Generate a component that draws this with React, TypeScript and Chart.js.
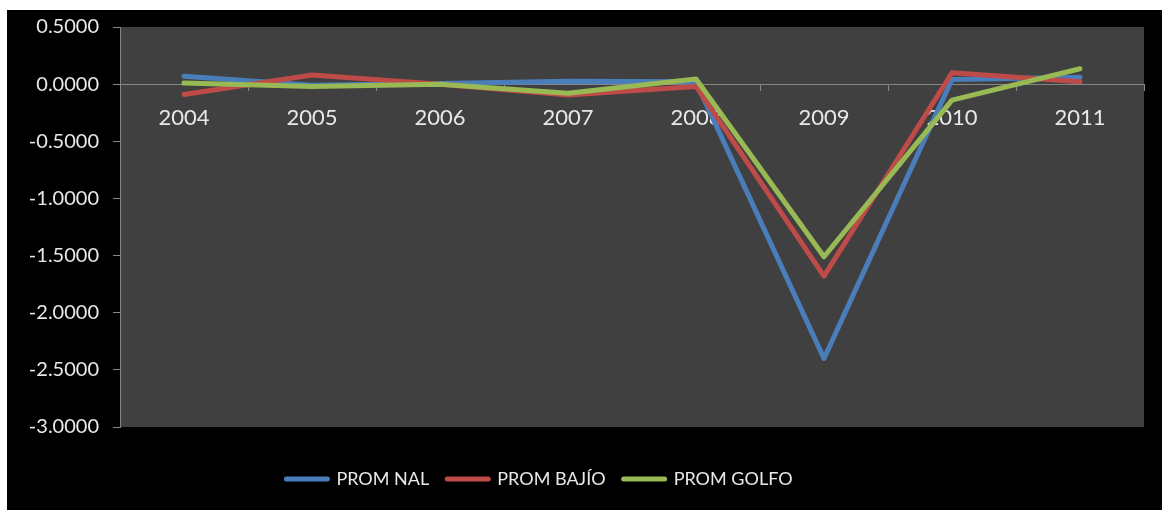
import React, { useEffect, useRef } from "react";
import { Chart, registerables } from "chart.js";

Chart.register(...registerables);

const categories = ["2004", "2005", "2006", "2007", "2008", "2009", "2010", "2011"];
const promNal = [0.07, -0.01, 0.005, 0.025, 0.02, -2.4, 0.04, 0.06];
const promBajio = [-0.09, 0.08, 0.0, -0.095, -0.02, -1.68, 0.1, 0.02];
const promGolfo = [0.01, -0.02, 0.0, -0.08, 0.045, -1.51, -0.14, 0.135];
const seriesNames = ["PROM NAL", "PROM BAJÍO", "PROM GOLFO"];
const seriesColors = ["#4A7EBB", "#BE4B48", "#98B954"];
const yMin = -3;
const yMax = 0.5;
const yStep = 0.5;

const TEXT = "#e8e8e8";
const AXIS = "#868686";

const plotBg = {
  id: "plotBg",
  beforeDraw(chart: any) {
    const { ctx, chartArea } = chart;
    ctx.save();
    ctx.fillStyle = "#404040";
    ctx.fillRect(chartArea.left, chartArea.top, chartArea.right - chartArea.left, chartArea.bottom - chartArea.top);
    ctx.restore();
  },
};

const legendShift = {
  id: "legendShift",
  afterLayout(chart: any) {
    if (chart.legend) {
      chart.legend.left -= 36;
      chart.legend.right -= 36;
    }
  },
};

export default function App() {
  const ref = useRef<HTMLCanvasElement>(null);
  useEffect(() => {
    if (!ref.current) return;
    const values = [promNal, promBajio, promGolfo];
    const chart = new Chart(ref.current, {
      type: "line",
      data: {
        labels: categories,
        datasets: values.map((v, i) => ({
          label: seriesNames[i],
          data: v,
          borderColor: seriesColors[i],
          backgroundColor: seriesColors[i],
          borderWidth: 5,
          pointRadius: 0,
          tension: 0,
          borderJoinStyle: "round" as const,
          borderCapStyle: "round" as const,
          order: 3 - i,
        })),
      },
      options: {
        responsive: false,
        animation: false,
        layout: { padding: { top: 17, right: 18, left: 0, bottom: 12 } },
        plugins: {
          tooltip: { enabled: false },
          title: { display: false },
          legend: {
            position: "bottom",
            title: { display: true, text: "", font: { size: 15 }, padding: { top: 7, bottom: 0 } },
            labels: {
              usePointStyle: true,
              pointStyleWidth: 41,
              padding: 18,
              color: TEXT,
              font: { family: "Lato", size: 18 },
              generateLabels: () =>
                seriesNames.map((n, i) => ({
                  text: n,
                  fillStyle: seriesColors[i],
                  strokeStyle: seriesColors[i],
                  lineWidth: 5,
                  lineCap: "round",
                  pointStyle: "line",
                  fontColor: TEXT,
                  hidden: false,
                  datasetIndex: i,
                })) as any,
            },
          },
        },
        scales: {
          x: {
            type: "category",
            position: { y: 0 } as any,
            offset: true,
            border: { display: true, color: AXIS, width: 1 },
            grid: { display: true, drawOnChartArea: false, drawTicks: true, tickLength: 6, color: AXIS, offset: true },
            ticks: { color: TEXT, font: { family: "Lato", size: 22 }, padding: 15, maxRotation: 0, autoSkip: false },
          },
          y: {
            min: yMin,
            max: yMax,
            border: { display: true, color: AXIS, width: 1 },
            grid: { display: true, drawOnChartArea: false, drawTicks: true, tickLength: 7, color: AXIS },
            ticks: {
              stepSize: yStep,
              color: TEXT,
              font: { family: "Lato", size: 20 },
              padding: 14,
              callback: (v: any) => Number(v).toFixed(4),
            },
            afterFit: (scale: any) => {
              scale.width = 113;
              scale.paddingTop = 0;
              scale.paddingBottom = 0;
            },
          },
        },
      },
      plugins: [plotBg, legendShift],
    });
    return () => chart.destroy();
  }, []);

  return (
    <div style={{ position: "absolute", left: 7, top: 10, width: 1155, height: 500, background: "#000" }}>
      <canvas ref={ref} width={1155} height={500} style={{ display: "block" }} />
    </div>
  );
}
